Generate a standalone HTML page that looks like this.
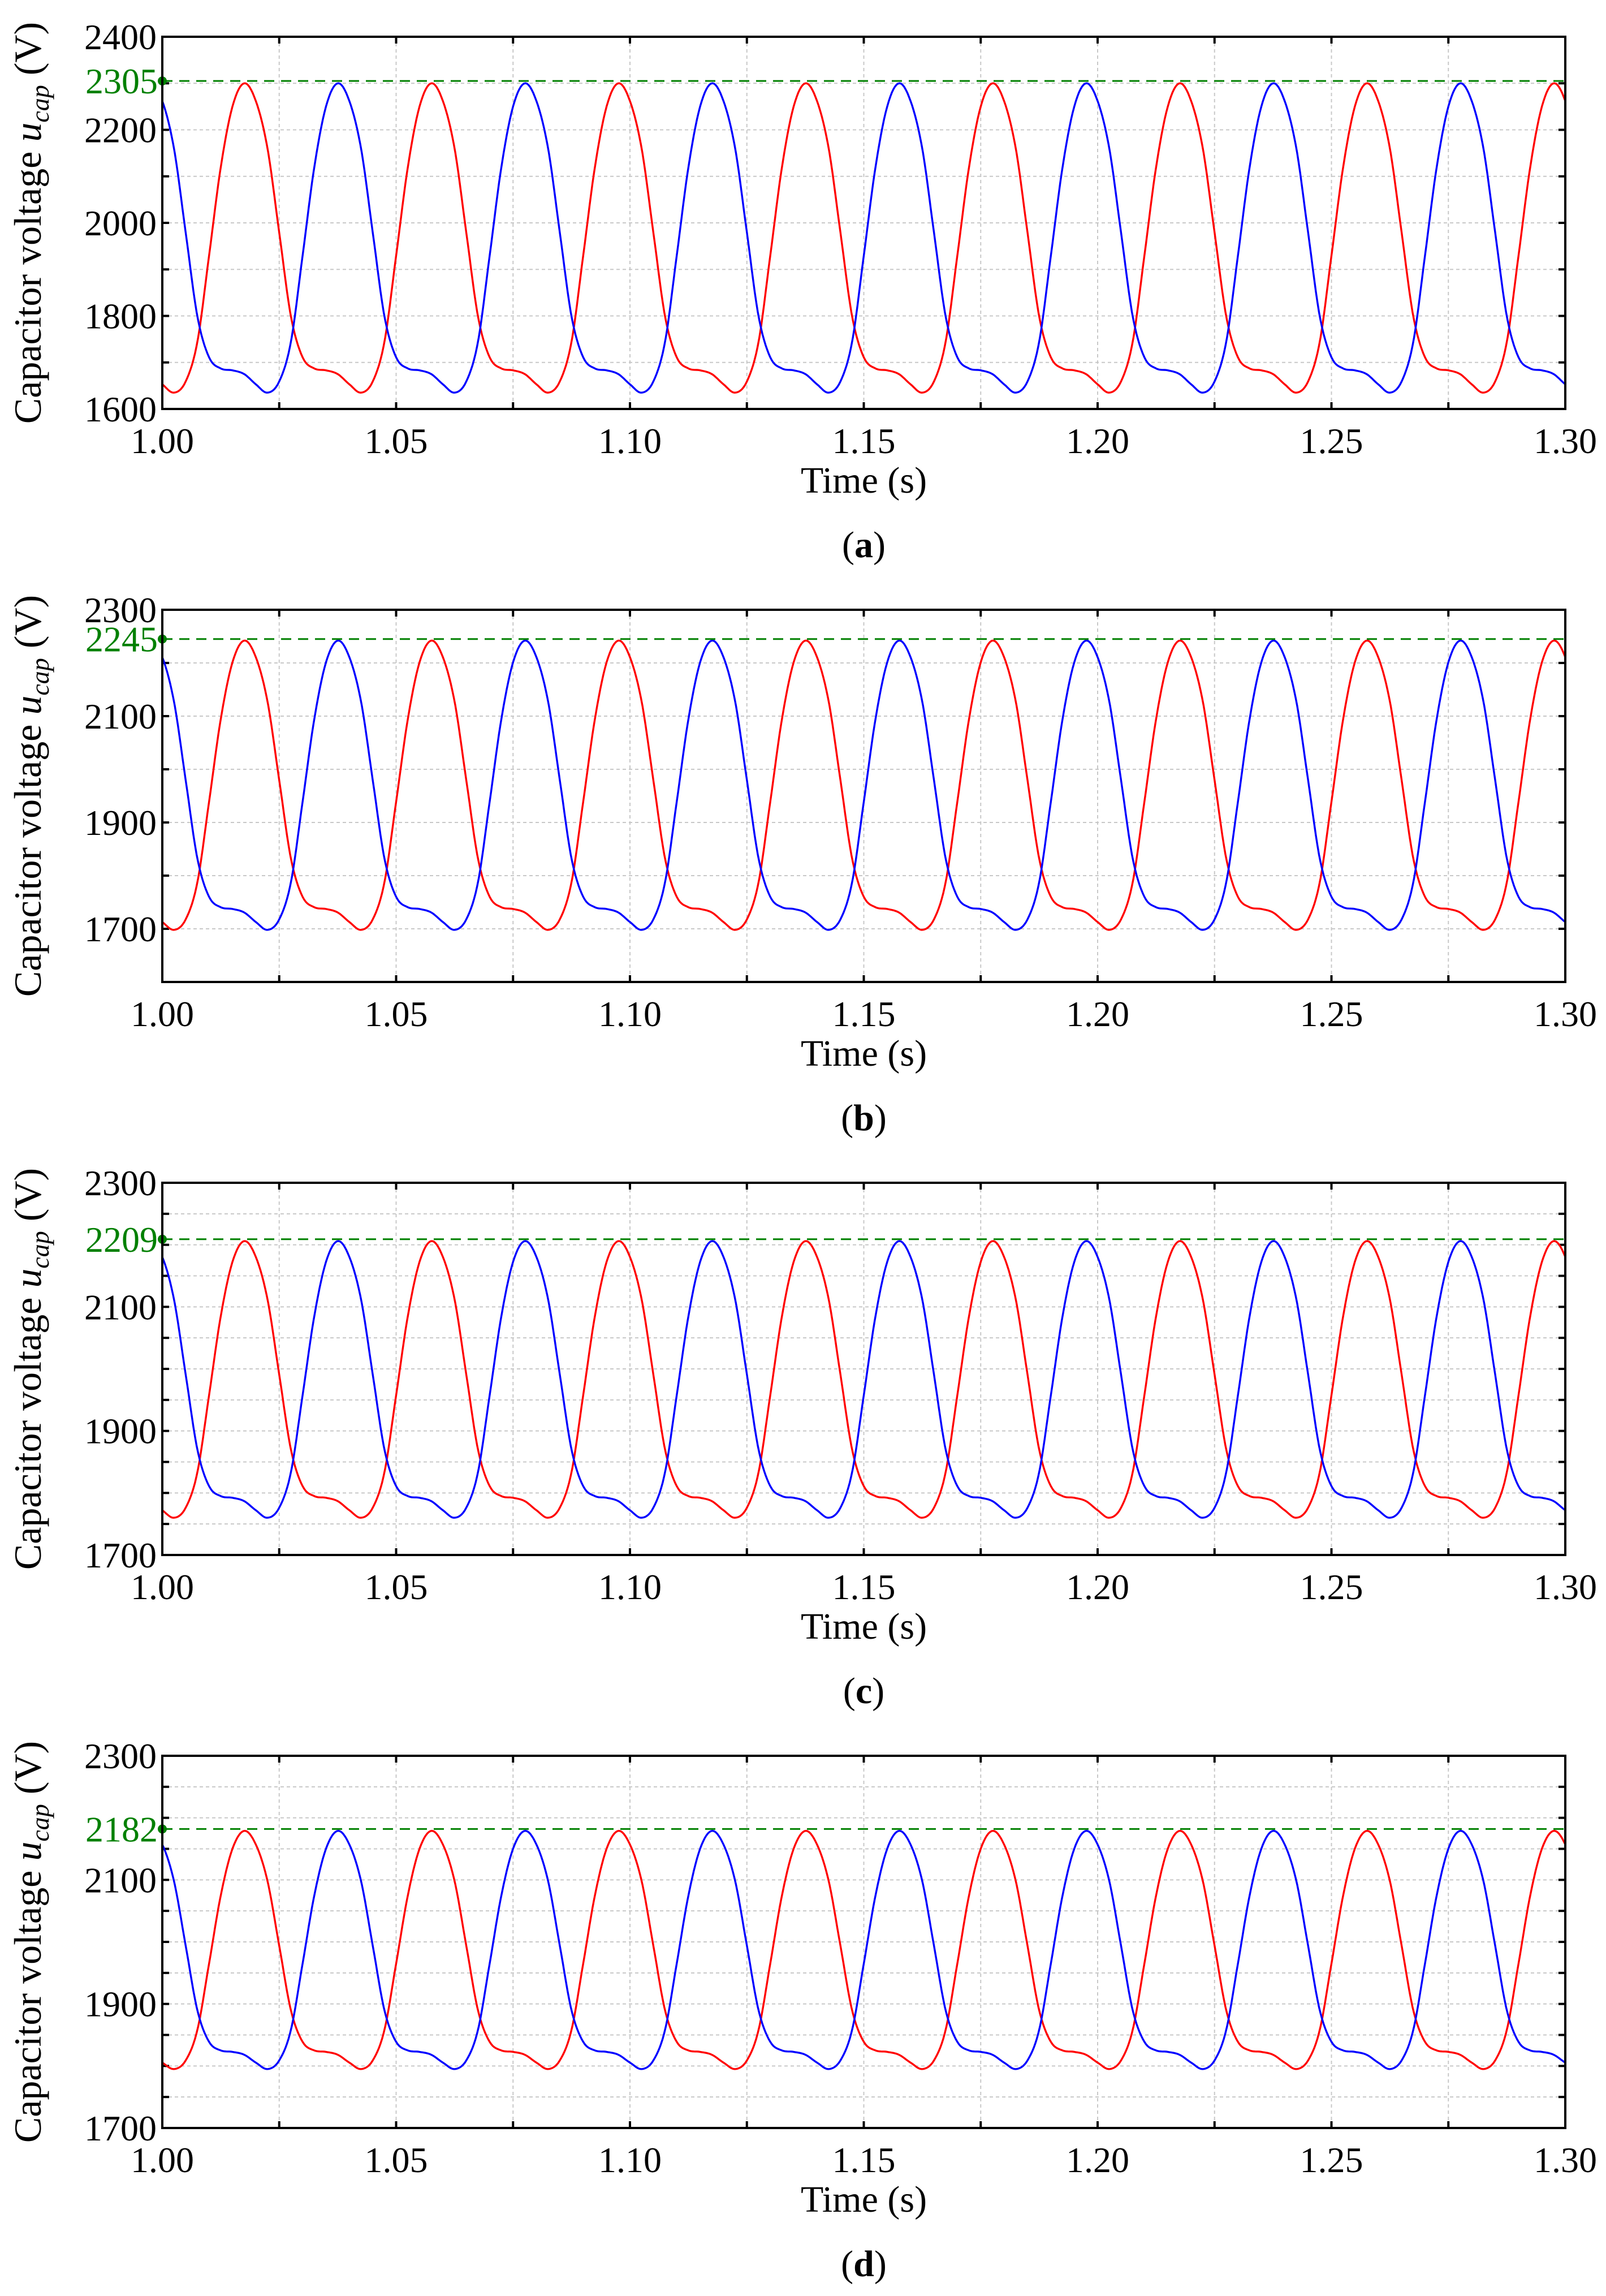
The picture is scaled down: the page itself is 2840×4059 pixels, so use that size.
<!DOCTYPE html>
<html><head><meta charset="utf-8"><style>
html,body{margin:0;padding:0;background:#fff}
svg{display:block}
text{font-family:"Liberation Serif",serif}
</style></head><body>
<svg id="fig" width="2840" height="4059" viewBox="0 0 2840 4059" xmlns="http://www.w3.org/2000/svg"></svg>
<script>
// Shared cycle shape of one 0.04 s period (panel a red, volts), sampled every 0.0025 s
const cycleShapeA = [1654,1636,1660,1745,1930,2120,2250,2300,2262,2160,1980,1800,1712,1688,1684,1676];
// Per-panel data
const panelLabels = ['a','b','c','d'];
const peakValues = [2305,2245,2209,2182];
const curvePeaks = [2300,2242,2206,2179];
const curveMins = [1635,1698,1760,1795];
const yMins = [1600,1600,1700,1700];
const yMaxs = [2400,2300,2300,2300];
const yTickLabels = [[1600,1800,2000,2200,2400],[1700,1900,2100,2300],[1700,1900,2100,2300],[1700,1900,2100,2300]];
const yGridSteps = [100,100,50,50];
const xTickLabels = ['1.00','1.05','1.10','1.15','1.20','1.25','1.30'];
const tStart = 1.0, tEnd = 1.3, period = 0.04, phaseShift = 0.02;

const NS='http://www.w3.org/2000/svg';
const svg=document.getElementById('fig');
function mk(tag,attrs,parent){const e=document.createElementNS(NS,tag);for(const k in attrs)e.setAttribute(k,attrs[k]);(parent||svg).appendChild(e);return e;}

const L=287,R=2768,H=658,tops=[65,1078,2091,3104];
const shapeMin=Math.min(...cycleShapeA), shapeMax=Math.max(...cycleShapeA);

function cycVal(t,p){
  const n=cycleShapeA.length, step=period/n;
  let u=((t-tStart)%period+period)%period/step;
  const i=Math.floor(u), f=u-i;
  const g=k=>{const v=cycleShapeA[((k%n)+n)%n];return curveMins[p]+(v-shapeMin)/(shapeMax-shapeMin)*(curvePeaks[p]-curveMins[p]);};
  const p0=g(i-1),p1=g(i),p2=g(i+1),p3=g(i+2);
  return 0.5*((2*p1)+(-p0+p2)*f+(2*p0-5*p1+4*p2-p3)*f*f+(-p0+3*p1-3*p2+p3)*f*f*f);
}

panelLabels.forEach((lab,p)=>{
  const T=tops[p],B=T+H;
  const x=t=>L+(t-tStart)/(tEnd-tStart)*(R-L);
  const y=v=>B-(v-yMins[p])/(yMaxs[p]-yMins[p])*H;
  const g=mk('g',{});
  
  
  for(let t=tStart+0.025;t<tEnd-1e-6;t+=0.025){
    const ln=mk('line',{x1:x(t),x2:x(t),y1:T,y2:B,stroke:'#c8c8c8','stroke-width':2,'stroke-dasharray':'6,5'},g);
    
    mk('line',{x1:x(t),x2:x(t),y1:T,y2:T+12,stroke:'#000','stroke-width':4},g);
    mk('line',{x1:x(t),x2:x(t),y1:B,y2:B-12,stroke:'#000','stroke-width':4},g);
  }
  for(let v=yMins[p]+yGridSteps[p];v<yMaxs[p]-1e-6;v+=yGridSteps[p]){
    const ln=mk('line',{x1:L,x2:R,y1:y(v),y2:y(v),stroke:'#c8c8c8','stroke-width':2,'stroke-dasharray':'6,5'},g);
    
    mk('line',{x1:L,x2:L+12,y1:y(v),y2:y(v),stroke:'#000','stroke-width':4},g);
    mk('line',{x1:R,x2:R-12,y1:y(v),y2:y(v),stroke:'#000','stroke-width':4},g);
  }
  const build=(shift)=>{let d='';const N=900;for(let k=0;k<=N;k++){const t=tStart+(tEnd-tStart)*k/N;d+=(k?'L':'M')+x(t).toFixed(1)+','+y(cycVal(t-shift,p)).toFixed(1);}return d;};
  const red=mk('path',{d:build(0),fill:'none',stroke:'#ff0000','stroke-width':3.4},g);
  
  const blue=mk('path',{d:build(phaseShift),fill:'none',stroke:'#0000ff','stroke-width':3.4},g);
  
  const pl=mk('line',{x1:L,x2:R,y1:y(peakValues[p]),y2:y(peakValues[p]),stroke:'#008000','stroke-width':3,'stroke-dasharray':'18,12'},g);
  
  const dot=mk('circle',{cx:L,cy:y(peakValues[p]),r:8,fill:'#008000'},g);
  
  const pt=mk('text',{x:L-8,y:y(peakValues[p])+22,'text-anchor':'end','font-size':64,fill:'#008000'},g);
  pt.textContent=peakValues[p];
  
  const fr=mk('rect',{x:L,y:T,width:R-L,height:H,fill:'none',stroke:'#000','stroke-width':4},g);
  
  yTickLabels[p].forEach(v=>{
    const tx=mk('text',{x:L-10,y:y(v)+22,'text-anchor':'end','font-size':64,fill:'#000'},g);
    tx.textContent=v;
    
  });
  xTickLabels.forEach(s=>{
    const tx=mk('text',{x:x(parseFloat(s)),y:B+78,'text-anchor':'middle','font-size':64,fill:'#000'},g);
    tx.textContent=s;
    
  });
  const xt=mk('text',{x:(L+R)/2,y:B+148,'text-anchor':'middle','font-size':66,fill:'#000'},g);
  xt.textContent='Time (s)';
  
  const yt=mk('text',{transform:`translate(72,${(T+B)/2}) rotate(-90)`,'text-anchor':'middle','font-size':68,fill:'#000'},g);
  yt.innerHTML='Capacitor voltage <tspan font-style="italic">u</tspan><tspan font-style="italic" font-size="46" dy="14">cap</tspan><tspan dy="-14"> (V)</tspan>';
  
  const cap=mk('text',{x:(L+R)/2,y:B+262,'text-anchor':'middle','font-size':66,fill:'#000'},g);
  cap.innerHTML='(<tspan font-weight="bold">'+lab+'</tspan>)';
  
});
</script>
</body></html>
